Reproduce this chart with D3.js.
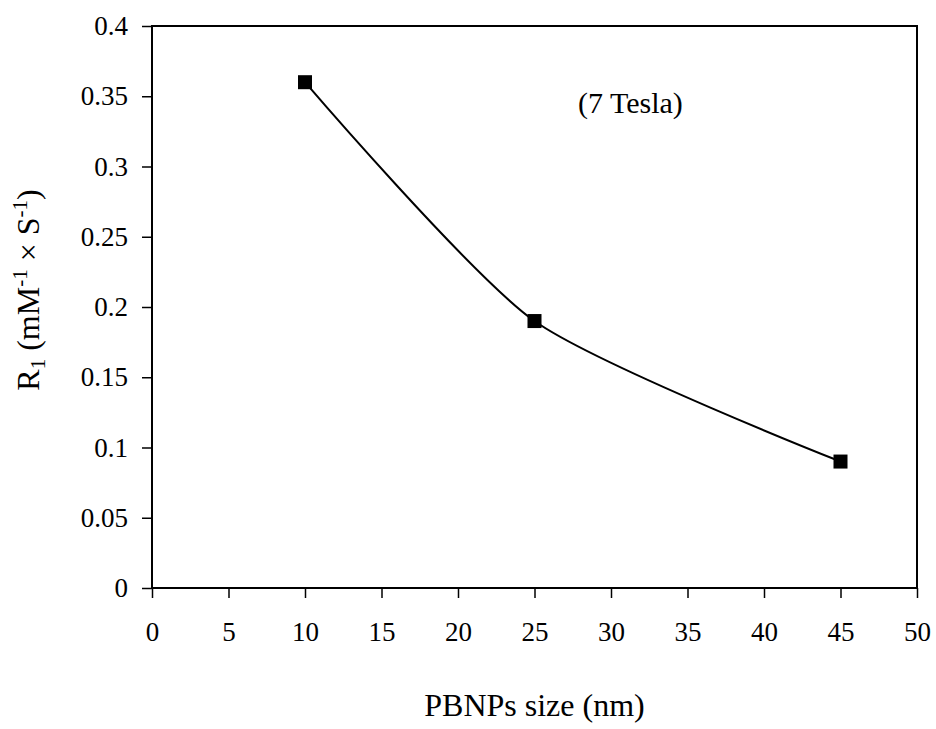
<!DOCTYPE html>
<html>
<head>
<meta charset="utf-8">
<script src="https://cdn.jsdelivr.net/npm/d3@7"></script>
<style>
  html, body { margin: 0; padding: 0; background: #fff; }
  svg { display: block; }
  text { font-family: "Liberation Serif", "Times New Roman", Times, serif; fill: #000; }
</style>
</head>
<body>
<svg id="chart" width="936" height="729"></svg>
<script>
// particle size (nm) vs. longitudinal relaxivity R1
const sizes = [10, 25, 45];
const r1Values = [0.36, 0.19, 0.09];
const xTicks = [0, 5, 10, 15, 20, 25, 30, 35, 40, 45, 50];
const yTicks = [0, 0.05, 0.1, 0.15, 0.2, 0.25, 0.3, 0.35, 0.4];
const annotation = "(7 Tesla)";

const svg = d3.select("#chart");
const plot = { left: 152, right: 917, top: 26, bottom: 588 };

const x = d3.scaleLinear().domain([0, 50]).range([plot.left, plot.right]);
const y = d3.scaleLinear().domain([0, 0.4]).range([plot.bottom, plot.top]);

// frame
svg.append("rect")
  .attr("x", plot.left).attr("y", plot.top)
  .attr("width", plot.right - plot.left).attr("height", plot.bottom - plot.top)
  .attr("fill", "none").attr("stroke", "#000").attr("stroke-width", 2);

// x axis
const xAxis = svg.append("g")
  .attr("transform", `translate(0,${plot.bottom})`)
  .call(d3.axisBottom(x).tickValues(xTicks).tickSize(10).tickPadding(24).tickFormat(d3.format("d")));
xAxis.select(".domain").remove();
xAxis.selectAll(".tick line").attr("stroke", "#000").attr("stroke-width", 1.5);
xAxis.selectAll(".tick text").attr("font-size", 27).attr("fill", "#000");

// y axis
const yAxis = svg.append("g")
  .attr("transform", `translate(${plot.left},0)`)
  .call(d3.axisLeft(y).tickValues(yTicks).tickSize(10).tickPadding(14).tickFormat(d => String(+d.toFixed(2))));
yAxis.select(".domain").remove();
yAxis.selectAll(".tick line").attr("stroke", "#000").attr("stroke-width", 1.5);
yAxis.selectAll(".tick text").attr("font-size", 27).attr("fill", "#000");

// smoothed line through the measurements
const line = d3.line()
  .x((d, i) => x(sizes[i]))
  .y(d => y(d))
  .curve(d3.curveCardinal.tension(0.3));
svg.append("path")
  .datum(r1Values)
  .attr("d", line)
  .attr("fill", "none").attr("stroke", "#000").attr("stroke-width", 2);

// square markers
const m = 14;
svg.selectAll(".marker")
  .data(r1Values)
  .join("rect")
  .attr("class", "marker")
  .attr("x", (d, i) => x(sizes[i]) - m / 2)
  .attr("y", d => y(d) - m / 2)
  .attr("width", m).attr("height", m)
  .attr("fill", "#000");

// annotation
svg.append("text")
  .attr("x", 578).attr("y", 113)
  .attr("font-size", 30)
  .text(annotation);

// x axis title
svg.append("text")
  .attr("x", (plot.left + plot.right) / 2).attr("y", 716)
  .attr("text-anchor", "middle")
  .attr("font-size", 32)
  .text("PBNPs size (nm)");

// y axis title with sub/superscripts
const yTitle = svg.append("text")
  .attr("transform", "translate(39,290) rotate(-90)")
  .attr("text-anchor", "middle")
  .attr("font-size", 32);
yTitle.append("tspan").text("R");
yTitle.append("tspan").attr("font-size", 21).attr("dy", 6).text("1");
yTitle.append("tspan").attr("dy", -6).text(" (mM");
yTitle.append("tspan").attr("font-size", 21).attr("dy", -12).text("-1");
yTitle.append("tspan").attr("dy", 12).text(" \u00d7 S");
yTitle.append("tspan").attr("font-size", 21).attr("dy", -12).text("-1");
yTitle.append("tspan").attr("dy", 12).text(")");
</script>
</body>
</html>
